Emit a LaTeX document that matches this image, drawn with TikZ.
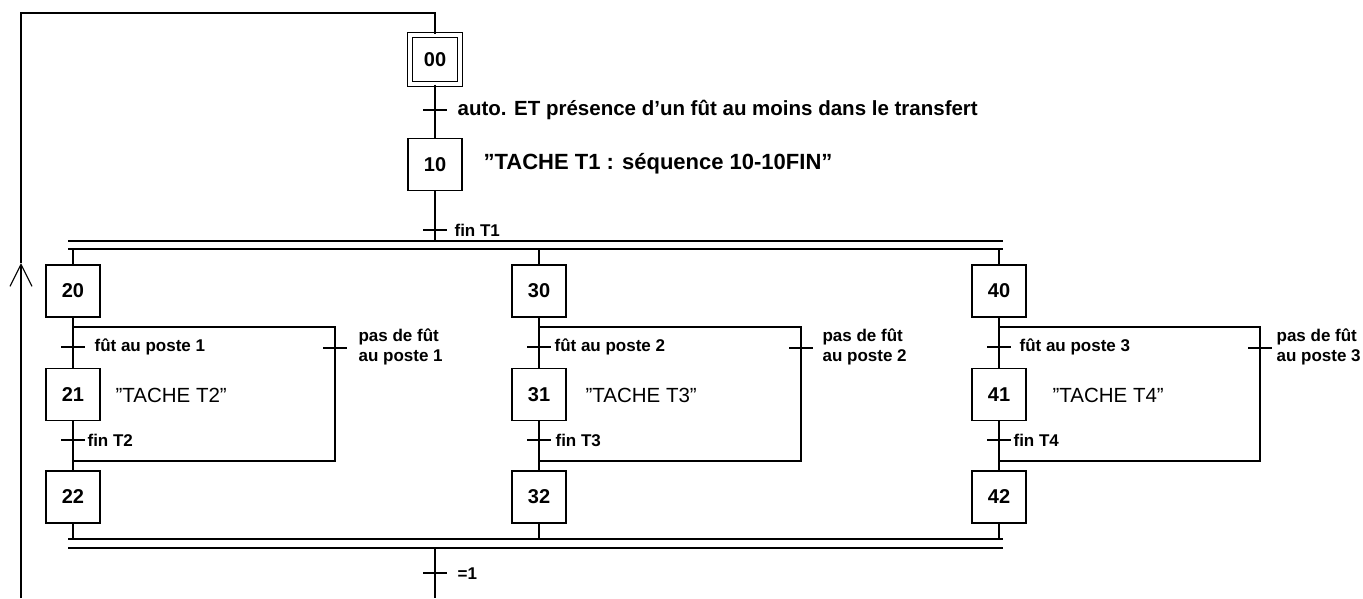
\documentclass[tikz,border=0pt]{standalone}
\usepackage{fontspec}
\setmainfont{Liberation Sans}
\usetikzlibrary{calc,arrows.meta}
\newcommand{\qq}{\symbol{34}}
\begin{document}
\begin{tikzpicture}[x=1pt,y=-1pt,line width=1.2pt,
  stepbox/.style={draw,minimum width=54pt,minimum height=52pt,inner sep=0pt,font=\fontsize{20}{24}\selectfont\bfseries},
  initbox/.style={draw,double,double distance=3.6pt,minimum width=50pt,minimum height=49pt,inner sep=0pt,font=\fontsize{20}{24}\selectfont\bfseries},
  trans/.style={fill=black,draw=none,minimum width=24pt,minimum height=1.4pt,inner sep=0pt},
  biglbl/.style={anchor=west,inner sep=0pt,font=\fontsize{20.5}{24}\selectfont\bfseries},
  bigtask/.style={anchor=west,inner sep=0pt,font=\fontsize{22}{26}\selectfont\bfseries},
  tasklbl/.style={anchor=west,inner sep=0pt,font=\fontsize{20.5}{24}\selectfont},
  smalllbl/.style={anchor=west,inner sep=0pt,align=left,font=\fontsize{17}{20}\selectfont\bfseries},
  bar/.style={line width=1.2pt}]
\useasboundingbox (0,0) rectangle (1363,598);

% initial part
\node[initbox] (s00) at (435,59.5) {00};
\node[trans] (t0) at (435,110) {};
\node[biglbl] (l0) at (457,110) {auto. ET présence d'un fût au moins dans le transfert};
\node[stepbox] (s10) at (435,164.5) {10};
\node[bigtask] (a10) at (483,164) {\qq TACHE T1 : séquence 10-10FIN\qq};
\node[trans] (t1) at (435,230) {};
\node[smalllbl] (l1) at (454,230) {fin T1};

% double bars
\coordinate (barAL) at (68,241);
\coordinate (barAR) at (1003,241);
\coordinate (barBL) at (68,249);
\coordinate (barBR) at (1003,249);
\coordinate (barCL) at (68,539);
\coordinate (barCR) at (1003,539);
\coordinate (barDL) at (68,548);
\coordinate (barDR) at (1003,548);
\draw[bar] (barAL) -- (barAR);
\draw[bar] (barBL) -- (barBR);
\draw[bar] (barCL) -- (barCR);
\draw[bar] (barDL) -- (barDR);

\draw (s00) -- (t0) -- (s10) -- (t1) -- (t1 |- barAL);

% station 1
\node[stepbox] (s20) at (73,291) {20};
\node[trans] (t20) at (73,347) {};
\node[smalllbl] (l20) at (94,347) {fût au poste 1};
\node[stepbox] (s21) at (73,394.5) {21};
\node[tasklbl] (a21) at (115,395) {\qq TACHE T2\qq};
\node[trans] (t21) at (73,440) {};
\node[smalllbl] (l21) at (87,440) {fin T2};
\node[stepbox] (s22) at (73,497) {22};
\coordinate (k2a) at (73,327);
\coordinate (k2b) at (335,327);
\node[trans] (t2s) at (335,348) {};
\coordinate (k2c) at (335,461);
\coordinate (k2d) at (73,461);
\node[smalllbl] (l2s) at (358,347) {pas de fût\\au poste 1};
\draw (s20 |- barBL) -- (s20) -- (t20) -- (s21) -- (t21) -- (s22) -- (s22 |- barCL);
\draw (k2a) -- (k2b) -- (t2s) -- (k2c) -- (k2d);

% station 2
\node[stepbox] (s30) at (539,291) {30};
\node[trans] (t30) at (539,347) {};
\node[smalllbl] (l30) at (554,347) {fût au poste 2};
\node[stepbox] (s31) at (539,394.5) {31};
\node[tasklbl] (a31) at (585,395) {\qq TACHE T3\qq};
\node[trans] (t31) at (539,440) {};
\node[smalllbl] (l31) at (555,440) {fin T3};
\node[stepbox] (s32) at (539,497) {32};
\coordinate (k3a) at (539,327);
\coordinate (k3b) at (801,327);
\node[trans] (t3s) at (801,348) {};
\coordinate (k3c) at (801,461);
\coordinate (k3d) at (539,461);
\node[smalllbl] (l3s) at (822,347) {pas de fût\\au poste 2};
\draw (s30 |- barBL) -- (s30) -- (t30) -- (s31) -- (t31) -- (s32) -- (s32 |- barCL);
\draw (k3a) -- (k3b) -- (t3s) -- (k3c) -- (k3d);

% station 3
\node[stepbox] (s40) at (999,291) {40};
\node[trans] (t40) at (999,347) {};
\node[smalllbl] (l40) at (1019,347) {fût au poste 3};
\node[stepbox] (s41) at (999,394.5) {41};
\node[tasklbl] (a41) at (1052,395) {\qq TACHE T4\qq};
\node[trans] (t41) at (999,440) {};
\node[smalllbl] (l41) at (1013,440) {fin T4};
\node[stepbox] (s42) at (999,497) {42};
\coordinate (k4a) at (999,327);
\coordinate (k4b) at (1260,327);
\node[trans] (t4s) at (1260,348) {};
\coordinate (k4c) at (1260,461);
\coordinate (k4d) at (999,461);
\node[smalllbl] (l4s) at (1276,347) {pas de fût\\au poste 3};
\draw (s40 |- barBL) -- (s40) -- (t40) -- (s41) -- (t41) -- (s42) -- (s42 |- barCL);
\draw (k4a) -- (k4b) -- (t4s) -- (k4c) -- (k4d);

% final transition and loop back
\node[trans] (tb) at (435,573) {};
\node[smalllbl] (lb) at (457,574) {=1};
\coordinate (bend) at (435,598);
\draw (tb |- barDL) -- (tb) -- (bend);
\coordinate (lbot) at (21,598);
\coordinate (larr) at (21,263);
\coordinate (ltop) at (21,13);
\coordinate (rtop) at (435,13);
\draw[-{Straight Barb[length=22pt,width=22pt]}] (lbot) -- (larr);
\draw (larr) -- (ltop) -- (rtop) -- (s00);
\end{tikzpicture}
\end{document}
